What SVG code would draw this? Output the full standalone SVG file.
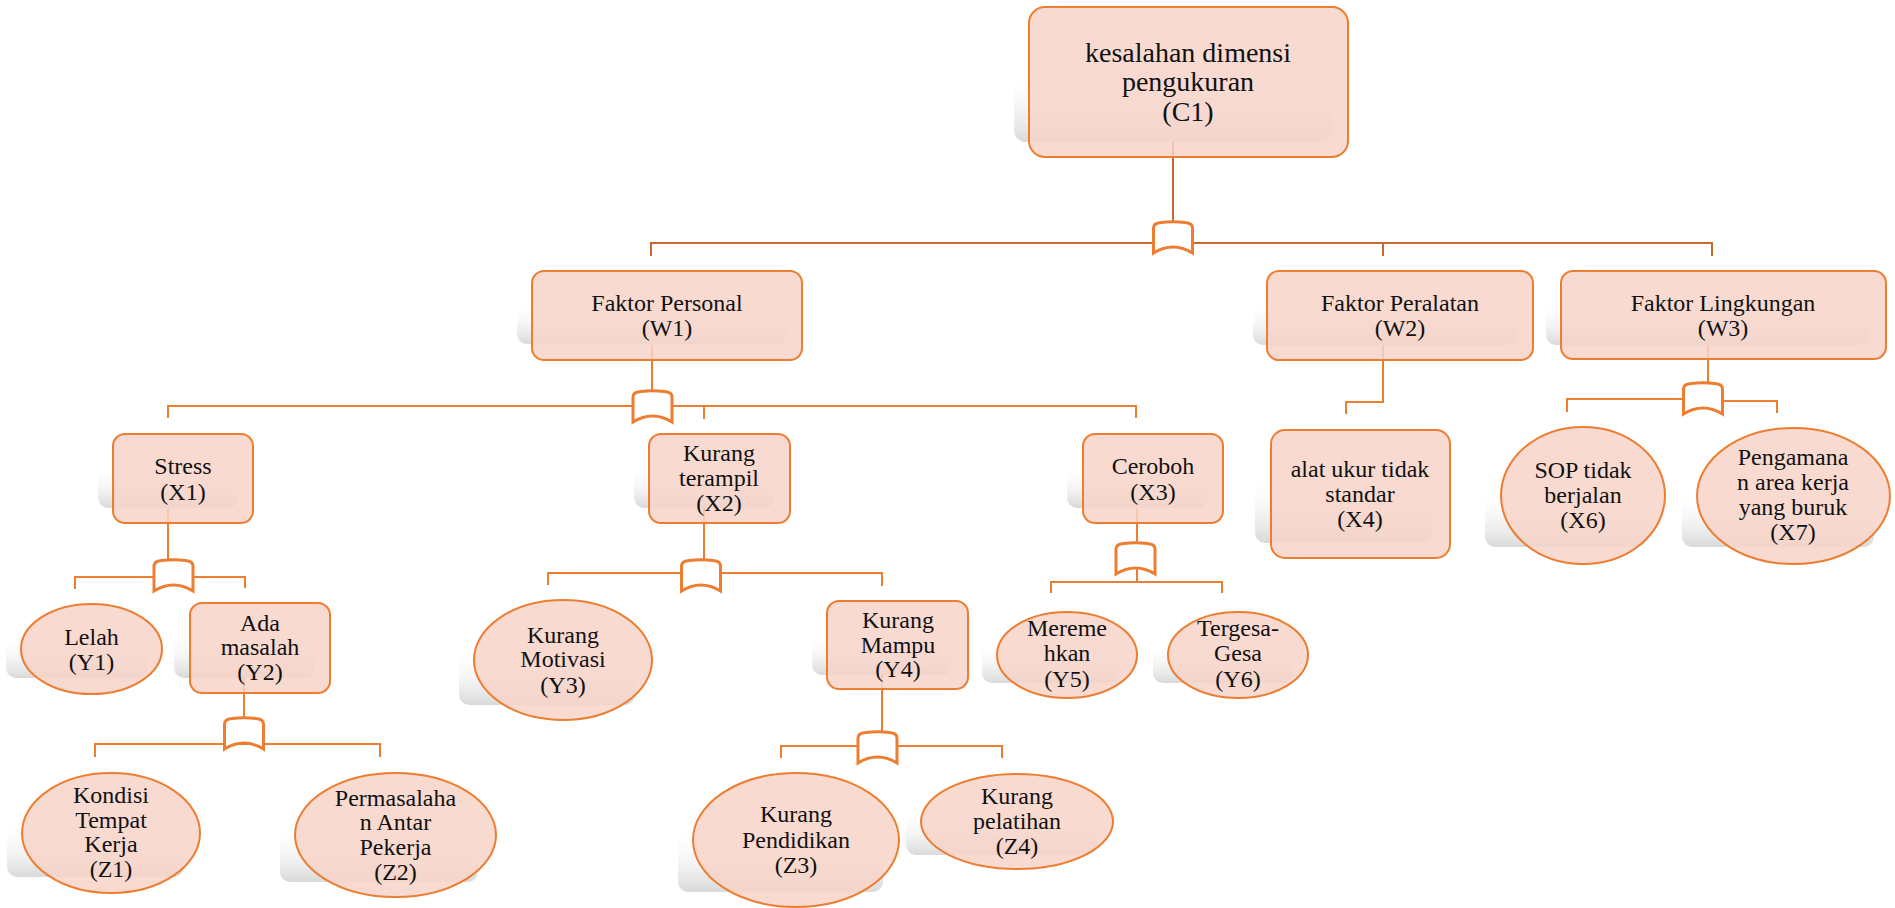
<svg xmlns="http://www.w3.org/2000/svg" xmlns:xlink="http://www.w3.org/1999/xlink" width="1895" height="908" viewBox="0 0 1895 908">
  <defs>
    <linearGradient id="shade" x1="0" y1="0" x2="0" y2="1">
      <stop offset="0" stop-color="#ffffff" stop-opacity="0"/>
      <stop offset="1" stop-color="#d9d9d9"/>
    </linearGradient>
    <!-- fault-tree gate: origin at top centre -->
    <path id="gate" d="M-19.5,31 V6 Q-19.5,1 -12,0.5 Q0,-1 12,0.5 Q19.5,1 19.5,6 V31 Q0,19 -19.5,31 Z"/>
    <style>
      .shadow { fill: url(#shade); }
      .node { fill: #f7d3c8; fill-opacity: 0.85; stroke: #ed7d31; stroke-width: 2; }
      .gate { fill: #ffffff; stroke: #ed7d31; stroke-width: 3; }
      .wire { fill: none; stroke: #ed7d31; stroke-width: 2; }
      .wire-top { fill: none; stroke: #c9682f; stroke-width: 2; }
      text { font-family: "Liberation Serif", "Times New Roman", serif; font-size: 24px; fill: #111111; text-anchor: middle; }
      .title { font-size: 28px; }
    </style>
  </defs>

  <rect width="1895" height="908" fill="#ffffff"/>

  <!-- drop shadows -->
  <g id="shadows">
    <rect class="shadow" x="1014" y="70" width="318" height="72" rx="12"/>
    <rect class="shadow" x="517" y="302" width="270" height="42" rx="10"/>
    <rect class="shadow" x="1253" y="302" width="264" height="43" rx="10"/>
    <rect class="shadow" x="1546" y="302" width="323" height="43" rx="10"/>
    <rect class="shadow" x="98" y="465" width="140" height="43" rx="10"/>
    <rect class="shadow" x="634" y="465" width="140" height="43" rx="10"/>
    <rect class="shadow" x="1067" y="465" width="141" height="43" rx="10"/>
    <rect class="shadow" x="1255" y="475" width="178" height="68" rx="10"/>
    <rect class="shadow" x="1485" y="490" width="162" height="57" rx="10"/>
    <rect class="shadow" x="1682" y="490" width="192" height="57" rx="10"/>
    <rect class="shadow" x="6" y="635" width="141" height="43" rx="10"/>
    <rect class="shadow" x="174" y="633" width="141" height="45" rx="10"/>
    <rect class="shadow" x="459" y="648" width="176" height="57" rx="10"/>
    <rect class="shadow" x="812" y="633" width="140" height="42" rx="10"/>
    <rect class="shadow" x="982" y="642" width="138" height="41" rx="10"/>
    <rect class="shadow" x="1153" y="642" width="140" height="41" rx="10"/>
    <rect class="shadow" x="7" y="822" width="177" height="55" rx="10"/>
    <rect class="shadow" x="280" y="825" width="198" height="57" rx="10"/>
    <rect class="shadow" x="678" y="828" width="205" height="64" rx="10"/>
    <rect class="shadow" x="906" y="810" width="191" height="45" rx="10"/>
  </g>

  <!-- connectors and gates -->
  <g id="connectors">
    <path class="wire-top" d="M1173,142 V222"/>
    <path class="wire-top" d="M651,256 V243 H1712 V256 M1383,243 V256"/>
    <use href="#gate" class="gate" x="1173" y="222"/>

    <path class="wire" d="M652,345 V391"/>
    <path class="wire" d="M168,418 V406 H1136 V418 M704,406 V419"/>
    <use href="#gate" class="gate" x="652.5" y="391"/>

    <path class="wire" d="M1383,345 V402 H1346 V414"/>

    <path class="wire" d="M1708,345 V383"/>
    <path class="wire" d="M1567,412 V399 H1690 M1716,401 H1777 V413"/>
    <use href="#gate" class="gate" x="1703" y="383"/>

    <path class="wire" d="M168,508 V560"/>
    <path class="wire" d="M75,589 V577 H245 V588"/>
    <use href="#gate" class="gate" x="173.5" y="560"/>

    <path class="wire" d="M704,508 V560"/>
    <path class="wire" d="M548,585 V573 H882 V586"/>
    <use href="#gate" class="gate" x="701" y="560"/>

    <path class="wire" d="M1137,508 V582"/>
    <path class="wire" d="M1051,593 V582 H1222 V593"/>
    <use href="#gate" class="gate" x="1135.5" y="543"/>

    <path class="wire" d="M244,678 V718"/>
    <path class="wire" d="M95,757 V744 H380 V757"/>
    <use href="#gate" class="gate" x="244" y="718"/>

    <path class="wire" d="M882,674 V732"/>
    <path class="wire" d="M781,758 V746 H1002 V758"/>
    <use href="#gate" class="gate" x="877.5" y="732"/>
  </g>

  <!-- top event -->
  <g id="C1">
    <rect class="node" x="1029" y="7" width="319" height="150" rx="16"/>
    <text class="title" x="1188" y="62">kesalahan dimensi</text>
    <text class="title" x="1188" y="91">pengukuran</text>
    <text class="title" x="1188" y="121">(C1)</text>
  </g>

  <!-- factors -->
  <g id="W1">
    <rect class="node" x="532" y="271" width="270" height="89" rx="12"/>
    <text x="667" y="311">Faktor Personal</text>
    <text x="667" y="336">(W1)</text>
  </g>
  <g id="W2">
    <rect class="node" x="1267" y="271" width="266" height="89" rx="12"/>
    <text x="1400" y="311">Faktor Peralatan</text>
    <text x="1400" y="336">(W2)</text>
  </g>
  <g id="W3">
    <rect class="node" x="1561" y="271" width="325" height="88" rx="12"/>
    <text x="1723" y="311">Faktor Lingkungan</text>
    <text x="1723" y="336">(W3)</text>
  </g>

  <!-- second level -->
  <g id="X1">
    <rect class="node" x="113" y="434" width="140" height="89" rx="12"/>
    <text x="183" y="474">Stress</text>
    <text x="183" y="500">(X1)</text>
  </g>
  <g id="X2">
    <rect class="node" x="649" y="434" width="141" height="89" rx="12"/>
    <text x="719" y="461">Kurang</text>
    <text x="719" y="486">terampil</text>
    <text x="719" y="511">(X2)</text>
  </g>
  <g id="X3">
    <rect class="node" x="1083" y="434" width="140" height="89" rx="12"/>
    <text x="1153" y="474">Ceroboh</text>
    <text x="1153" y="500">(X3)</text>
  </g>
  <g id="X4">
    <rect class="node" x="1271" y="430" width="179" height="128" rx="14"/>
    <text x="1360" y="477">alat ukur tidak</text>
    <text x="1360" y="502">standar</text>
    <text x="1360" y="527">(X4)</text>
  </g>
  <g id="X6">
    <ellipse class="node" cx="1583" cy="495.5" rx="82" ry="68.5"/>
    <text x="1583" y="478">SOP tidak</text>
    <text x="1583" y="503">berjalan</text>
    <text x="1583" y="528">(X6)</text>
  </g>
  <g id="X7">
    <ellipse class="node" cx="1793.5" cy="496" rx="96.5" ry="68"/>
    <text x="1793" y="465">Pengamana</text>
    <text x="1793" y="490">n area kerja</text>
    <text x="1793" y="515">yang buruk</text>
    <text x="1793" y="540">(X7)</text>
  </g>

  <!-- third level -->
  <g id="Y1">
    <ellipse class="node" cx="91.5" cy="649" rx="70.5" ry="45"/>
    <text x="91.5" y="645">Lelah</text>
    <text x="91.5" y="670">(Y1)</text>
  </g>
  <g id="Y2">
    <rect class="node" x="190" y="603" width="140" height="90" rx="12"/>
    <text x="260" y="631">Ada</text>
    <text x="260" y="655">masalah</text>
    <text x="260" y="680">(Y2)</text>
  </g>
  <g id="Y3">
    <ellipse class="node" cx="563" cy="660" rx="89" ry="60"/>
    <text x="563" y="643">Kurang</text>
    <text x="563" y="667">Motivasi</text>
    <text x="563" y="693">(Y3)</text>
  </g>
  <g id="Y4">
    <rect class="node" x="827" y="601" width="141" height="88" rx="12"/>
    <text x="898" y="628">Kurang</text>
    <text x="898" y="653">Mampu</text>
    <text x="898" y="677">(Y4)</text>
  </g>
  <g id="Y5">
    <ellipse class="node" cx="1067" cy="655" rx="70" ry="43"/>
    <text x="1067" y="636">Mereme</text>
    <text x="1067" y="661">hkan</text>
    <text x="1067" y="687">(Y5)</text>
  </g>
  <g id="Y6">
    <ellipse class="node" cx="1238" cy="655" rx="70" ry="43"/>
    <text x="1238" y="636">Tergesa-</text>
    <text x="1238" y="661">Gesa</text>
    <text x="1238" y="687">(Y6)</text>
  </g>

  <!-- basic events -->
  <g id="Z1">
    <ellipse class="node" cx="111" cy="833" rx="89" ry="60"/>
    <text x="111" y="803">Kondisi</text>
    <text x="111" y="828">Tempat</text>
    <text x="111" y="852">Kerja</text>
    <text x="111" y="877">(Z1)</text>
  </g>
  <g id="Z2">
    <ellipse class="node" cx="395.5" cy="835" rx="100.5" ry="62"/>
    <text x="395.5" y="806">Permasalaha</text>
    <text x="395.5" y="830">n Antar</text>
    <text x="395.5" y="855">Pekerja</text>
    <text x="395.5" y="880">(Z2)</text>
  </g>
  <g id="Z3">
    <ellipse class="node" cx="796" cy="840" rx="103" ry="67"/>
    <text x="796" y="822">Kurang</text>
    <text x="796" y="848">Pendidikan</text>
    <text x="796" y="873">(Z3)</text>
  </g>
  <g id="Z4">
    <ellipse class="node" cx="1017" cy="821.5" rx="96" ry="47.5"/>
    <text x="1017" y="804">Kurang</text>
    <text x="1017" y="829">pelatihan</text>
    <text x="1017" y="854">(Z4)</text>
  </g>
</svg>
